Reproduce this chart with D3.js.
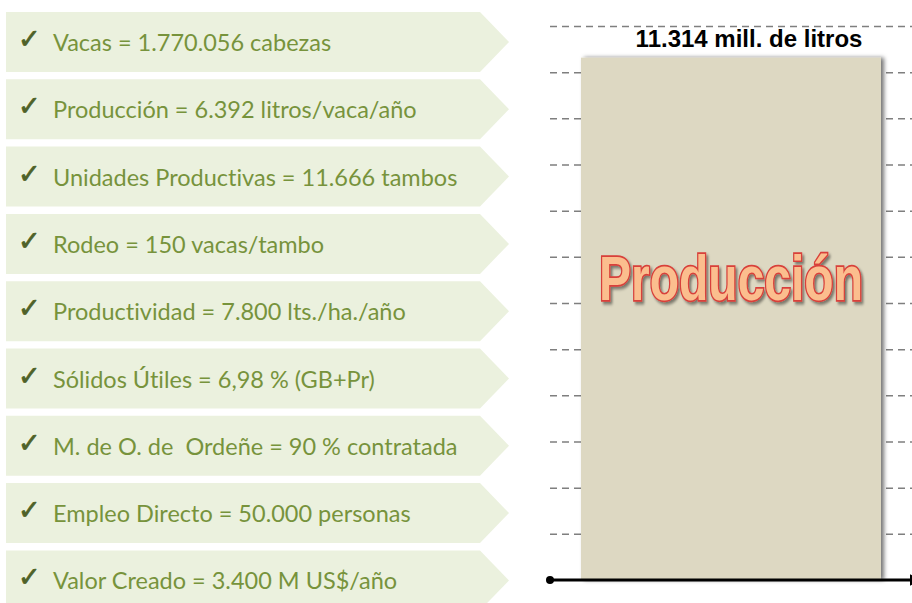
<!DOCTYPE html>
<html>
<head>
<meta charset="utf-8">
<script src="https://cdn.jsdelivr.net/npm/d3@7"></script>
<style>
  body { margin: 0; background: #fff; }
  svg { display: block; }
  text { white-space: pre; }
</style>
</head>
<body>
<svg width="912" height="603"></svg>
<script>
// Indicator list (left)
const labels = ["Vacas", "Producción", "Unidades Productivas", "Rodeo", "Productividad",
  "Sólidos Útiles", "M. de O. de  Ordeñe", "Empleo Directo", "Valor Creado"];
const figures = ["1.770.056 cabezas", "6.392 litros/vaca/año", "11.666 tambos", "150 vacas/tambo",
  "7.800 lts./ha./año", "6,98 % (GB+Pr)", "90 % contratada", "50.000 personas", "3.400 M US$/año"];

// Bar (right)
const categories = ["Producción"];
const values = [11314];
const valueLabel = "11.314 mill. de litros";
const gridTicks = d3.range(1000, 12001, 1000);

const svg = d3.select("svg");
const defs = svg.append("defs");

defs.append("filter").attr("id", "barShadow")
  .attr("x", "-10%").attr("y", "-10%").attr("width", "120%").attr("height", "120%")
  .append("feDropShadow")
  .attr("dx", 3).attr("dy", 0).attr("stdDeviation", 2.2)
  .attr("flood-color", "#000").attr("flood-opacity", 0.55);

defs.append("filter").attr("id", "textShadow")
  .attr("x", "-10%").attr("y", "-10%").attr("width", "120%").attr("height", "130%")
  .append("feDropShadow")
  .attr("dx", 2).attr("dy", 2).attr("stdDeviation", 1.2)
  .attr("flood-color", "#000").attr("flood-opacity", 0.45);

defs.append("marker").attr("id", "arrow")
  .attr("viewBox", "0 0 10 10").attr("refX", 2).attr("refY", 5)
  .attr("markerWidth", 4).attr("markerHeight", 4).attr("orient", "auto")
  .append("path").attr("d", "M0,0L10,5L0,10Z").attr("fill", "#000");

// ---- left: chevron banners ----
const band = d3.scaleBand()
  .domain(d3.range(labels.length))
  .range([12, 12 + labels.length * 67.3 - 7.3])
  .paddingInner(7.3 / 67.3);

const left = 6, body = 480, tip = 509;
const rows = svg.append("g").selectAll("g")
  .data(labels.map((l, i) => ({label: l, figure: figures[i], i})))
  .join("g")
  .attr("transform", d => `translate(0,${band(d.i)})`);

const h = band.bandwidth();
rows.append("path")
  .attr("d", `M${left},0H${body}L${tip},${h / 2}L${body},${h}H${left}Z`)
  .attr("fill", "#EBF1DE");

// check mark
rows.append("text")
  .attr("x", 18).attr("y", h / 2 + 6)
  .attr("font-family", "DejaVu Sans")
  .attr("font-size", 27)
  .attr("fill", "#4F6228")
  .attr("stroke", "#4F6228")
  .attr("stroke-width", 0.8)
  .text("✓");

rows.append("text")
  .attr("x", 53).attr("y", h / 2 + 9)
  .attr("font-family", "Lato, 'Open Sans', sans-serif")
  .attr("font-size", 23.5)
  .style("font-variant-ligatures", "none")
  .attr("fill", "#77933C")
  .text(d => `${d.label} = ${d.figure}`);

// ---- right: single bar ----
const x = d3.scaleBand().domain(categories).range([550, 912]).padding(0.0937);
const y = d3.scaleLinear().domain([0, 12000]).range([580, 26]);

const grid = svg.append("g")
  .attr("transform", "translate(550,0)")
  .call(d3.axisLeft(y).tickValues(gridTicks).tickSize(-362).tickFormat(""));
grid.select(".domain").remove();
grid.selectAll(".tick line")
  .attr("stroke", "#7f7f7f")
  .attr("stroke-width", 1.5)
  .attr("stroke-dasharray", "7,5");

svg.append("g").selectAll("rect")
  .data(values)
  .join("rect")
  .attr("x", (d, i) => x(categories[i]))
  .attr("y", d => y(d))
  .attr("width", x.bandwidth())
  .attr("height", d => y(0) - y(d))
  .attr("fill", "#DDD8C2")
  .attr("filter", "url(#barShadow)");

// baseline axis with dot and arrow
svg.append("line")
  .attr("x1", 550).attr("x2", 912)
  .attr("y1", y(0)).attr("y2", y(0))
  .attr("stroke", "#000").attr("stroke-width", 3)
  .attr("marker-end", "url(#arrow)");
svg.append("circle")
  .attr("cx", 550).attr("cy", y(0)).attr("r", 4).attr("fill", "#000");

svg.append("text")
  .attr("x", 749).attr("y", 47)
  .attr("text-anchor", "middle")
  .attr("font-family", "'Liberation Sans', Arial, sans-serif")
  .attr("font-weight", "bold")
  .attr("font-size", 24)
  .attr("fill", "#000")
  .text(valueLabel);

const cx = x(categories[0]) + x.bandwidth() / 2;
svg.append("text")
  .attr("transform", `translate(${cx},300) scale(1,1.3)`)
  .attr("text-anchor", "middle")
  .attr("font-family", "'Liberation Sans', Arial, sans-serif")
  .attr("font-weight", "bold")
  .attr("font-size", 48)
  .attr("fill", "#FBBE8E")
  .attr("stroke", "#D8403A")
  .attr("stroke-width", 2.5)
  .attr("paint-order", "stroke")
  .attr("filter", "url(#textShadow)")
  .text(categories[0]);
</script>
</body>
</html>
